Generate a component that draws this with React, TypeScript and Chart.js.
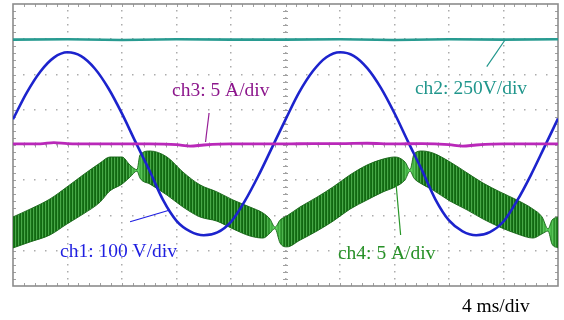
import { useEffect, useRef } from "react";
import { Chart, registerables } from "chart.js";

Chart.register(...registerables);

// ---- scope settings: 4 ms/div horizontally (10 div), 8 vertical divisions ----
const timeTicks = [0, 4, 8, 12, 16, 20, 24, 28, 32, 36, 40];
const divTicks = [-4, -3, -2, -1, 0, 1, 2, 3, 4];

// ch1: 100 V/div  (values in divisions, time in ms)
const ch1Time = [0, 1, 2, 3, 4, 5, 6, 7, 8, 9, 10, 11, 12, 13, 14, 15, 16, 17, 18, 19, 20,
  21, 22, 23, 24, 25, 26, 27, 28, 29, 30, 31, 32, 33, 34, 35, 36, 37, 38, 39, 40];
const ch1Volts = [0.73, 1.48, 2.08, 2.48, 2.63, 2.52, 2.17, 1.61, 0.89, 0.08, -0.71, -1.55, -2.15, -2.45, -2.56, -2.48, -2.18, -1.6, -0.88, -0.08,
  0.72, 1.49, 2.09, 2.49, 2.63, 2.53, 2.18, 1.62, 0.9, 0.09, -0.7, -1.54, -2.14, -2.45, -2.56, -2.47, -2.17, -1.58, -0.86, -0.06, 0.75];

// ch2: 250 V/div (DC link)
const ch2Time = [0, 4, 8, 12, 16, 20, 24, 28, 32, 36, 40];
const ch2Level = [2.99, 3.0, 2.98, 3.0, 2.99, 2.99, 3.0, 2.98, 3.0, 2.99, 3.0];

// ch3: 5 A/div
const ch3Time = [0, 2, 3, 4, 6, 8, 10, 12, 13, 14, 16, 18, 20, 22, 24, 26, 28, 30, 32, 33, 34, 36, 38, 40];
const ch3Current = [0.03, 0.03, 0.07, 0.04, 0.03, 0.03, 0.03, 0.01, -0.03, 0.0, 0.03, 0.03, 0.03, 0.04, 0.04, 0.05, 0.03, 0.04, 0.01, -0.03, 0.0, 0.03, 0.03, 0.03];

// ch4: 5 A/div (ripple band: upper and lower envelope)
const ch4Time = [0, 1.25, 2.72, 3.96, 5.14, 6.39, 7.12, 8.0, 8.59, 9.1,
  9.32, 10.06, 11.3, 12.48, 13.72, 14.97, 16.15, 17.39, 18.35, 18.86, 19.23,
  19.6, 20.11, 21.06, 22.31, 23.49, 24.73, 25.98, 27.16, 28.04, 28.77, 29.14,
  29.43, 30.02, 30.83, 32.07, 33.32, 34.5, 35.74, 36.99, 38.17, 38.83, 39.27,
  39.56, 40.0];
const ch4Upper = [-2.04, -1.82, -1.53, -1.19, -0.85, -0.51, -0.34, -0.34, -0.57, -0.7,
  -0.28, -0.17, -0.34, -0.77, -1.13, -1.33, -1.56, -1.76, -1.93, -2.1, -2.33,
  -2.13, -2.01, -1.76, -1.48, -1.19, -0.85, -0.57, -0.4, -0.34, -0.48, -0.7,
  -0.26, -0.17, -0.23, -0.48, -0.79, -1.08, -1.33, -1.56, -1.82, -2.04, -2.38,
  -2.13, -2.04];
const ch4Lower = [-2.92, -2.75, -2.55, -2.24, -1.96, -1.62, -1.3, -1.11, -0.91, -0.74,
  -0.94, -1.11, -1.42, -1.76, -2.04, -2.16, -2.38, -2.58, -2.64, -2.5, -2.37,
  -2.78, -2.89, -2.7, -2.44, -2.16, -1.82, -1.56, -1.33, -1.19, -0.99, -0.74,
  -0.94, -1.11, -1.28, -1.59, -1.84, -2.1, -2.33, -2.52, -2.64, -2.52, -2.44,
  -2.81, -2.92];
const ch4NeckTimes = [9.1, 19.23, 29.14, 39.27];

// ---- annotations (positions in scope units: ms, div) ----
const SERIF = '"Liberation Serif", "Times New Roman", serif';
const labels = [
  { text: "ch3: 5 A/div", t: 11.67, v: 1.404, color: "rgb(140,22,140)" },
  { text: "ch2: 250V/div", t: 29.5, v: 1.447, color: "rgb(32,150,140)" },
  { text: "ch1: 100 V/div", t: 3.45, v: -3.177, color: "rgb(30,30,225)" },
  { text: "ch4: 5 A/div", t: 23.85, v: -3.22, color: "rgb(40,145,40)" },
  { text: "4 ms/div", t: 32.95, v: -4.738, color: "rgb(0,0,0)" },
];
const leaders = [
  { t0: 34.77, v0: 2.221, t1: 36.11, v1: 2.979, color: "rgb(32,150,140)" },
  { t0: 14.13, v0: 0.085, t1: 14.39, v1: 0.908, color: "rgb(150,30,150)" },
  { t0: 8.59, v0: -2.176, t1: 11.52, v1: -1.844, color: "rgb(30,30,225)" },
  { t0: 28.45, v0: -2.553, t1: 28.11, v1: -1.087, color: "rgb(40,150,40)" },
];

const toXY = (xs: number[], ys: number[]) => xs.map((x, i) => ({ x, y: ys[i] }));

let patternCache: { w: number; key: string; pat: CanvasPattern | string } | null = null;
function bandFill(chart: any): CanvasPattern | string {
  const xs = chart.scales && chart.scales.x;
  if (!xs) return "rgb(30,120,30)";
  const w = chart.width;
  const necks = ch4NeckTimes.map((t) => xs.getPixelForValue(t));
  const key = necks.map((n) => n.toFixed(1)).join(",");
  if (patternCache && patternCache.w === w && patternCache.key === key) return patternCache.pat;
  const c = document.createElement("canvas");
  c.width = w;
  c.height = 1;
  const g = c.getContext("2d")!;
  const hi = [105, 228, 105];
  for (let x = 0; x < w; x++) {
    const m = x % 3;
    const base = m === 0 ? [72, 168, 72] : m === 1 ? [24, 116, 24] : [18, 104, 18];
    let b = 0;
    for (const n of necks) b = Math.max(b, 1 - Math.abs(x + 0.5 - n) / 10);
    const col = base.map((v, i) => Math.round(v + (hi[i] - v) * b * 0.85));
    g.fillStyle = `rgb(${col[0]},${col[1]},${col[2]})`;
    g.fillRect(x, 0, 1, 1);
  }
  const pat = chart.ctx.createPattern(c, "repeat") || "rgb(30,120,30)";
  patternCache = { w, key, pat };
  return pat;
}

const scopeGrid = {
  id: "scopeGrid",
  beforeDatasetsDraw(chart: any) {
    const { ctx, chartArea: a, scales } = chart;
    const x = scales.x;
    const y = scales.y;
    ctx.save();
    const xDiv = (x.getPixelForValue(timeTicks[1]) - x.getPixelForValue(timeTicks[0]));
    const yDiv = (y.getPixelForValue(divTicks[0]) - y.getPixelForValue(divTicks[1]));
    const xCenter = x.getPixelForValue(timeTicks[5]);
    const yCenter = y.getPixelForValue(divTicks[4]);
    ctx.fillStyle = "rgb(172,172,172)";
    // vertical dotted lines
    for (let i = 1; i < timeTicks.length - 1; i++) {
      const px = x.getPixelForValue(timeTicks[i]);
      for (let k = 1; k < (divTicks.length - 1) * 5; k++) {
        const py = a.top + (k * yDiv) / 5;
        ctx.fillRect(Math.round(px) - 1, Math.round(py) - 1, 1.5, 1.5);
      }
    }
    // horizontal dotted lines
    for (let j = 1; j < divTicks.length - 1; j++) {
      const py = y.getPixelForValue(divTicks[j]);
      for (let k = 1; k < (timeTicks.length - 1) * 5; k++) {
        const px = a.left + (k * xDiv) / 5;
        ctx.fillRect(Math.round(px) - 1, Math.round(py) - 1, 1.5, 1.5);
      }
    }
    // center line minor ticks
    ctx.strokeStyle = "rgb(160,160,160)";
    ctx.lineWidth = 1;
    ctx.beginPath();
    for (let k = 1; k < (divTicks.length - 1) * 5; k++) {
      const py = Math.round(a.top + (k * yDiv) / 5) + 0.5;
      ctx.moveTo(xCenter - 2.5, py);
      ctx.lineTo(xCenter + 2.5, py);
    }
    for (let k = 1; k < (timeTicks.length - 1) * 5; k++) {
      const px = Math.round(a.left + (k * xDiv) / 5) + 0.5;
      ctx.moveTo(px, yCenter - 2.5);
      ctx.lineTo(px, yCenter + 2.5);
    }
    // border ticks
    for (let k = 1; k < (timeTicks.length - 1) * 5; k++) {
      const px = Math.round(a.left + (k * xDiv) / 5) + 0.5;
      ctx.moveTo(px, a.top);
      ctx.lineTo(px, a.top + 3);
      ctx.moveTo(px, a.bottom);
      ctx.lineTo(px, a.bottom - 3);
    }
    for (let k = 1; k < (divTicks.length - 1) * 5; k++) {
      const py = Math.round(a.top + (k * yDiv) / 5) + 0.5;
      ctx.moveTo(a.left, py);
      ctx.lineTo(a.left + 3, py);
      ctx.moveTo(a.right, py);
      ctx.lineTo(a.right - 3, py);
    }
    ctx.stroke();
    // border
    ctx.strokeStyle = "rgb(140,140,140)";
    ctx.lineWidth = 1.6;
    ctx.strokeRect(a.left, a.top, a.right - a.left, a.bottom - a.top);
    ctx.restore();
  },
  afterDatasetsDraw(chart: any) {
    const { ctx, scales } = chart;
    const x = scales.x;
    const y = scales.y;
    ctx.save();
    ctx.lineWidth = 1.2;
    for (const l of leaders) {
      ctx.strokeStyle = l.color;
      ctx.beginPath();
      ctx.moveTo(x.getPixelForValue(l.t0), y.getPixelForValue(l.v0));
      ctx.lineTo(x.getPixelForValue(l.t1), y.getPixelForValue(l.v1));
      ctx.stroke();
    }
    ctx.font = `19.5px ${SERIF}`;
    ctx.textBaseline = "alphabetic";
    ctx.textAlign = "left";
    for (const t of labels) {
      ctx.fillStyle = t.color;
      ctx.fillText(t.text, x.getPixelForValue(t.t), y.getPixelForValue(t.v));
    }
    ctx.restore();
  },
};

export default function App() {
  const ref = useRef<HTMLCanvasElement | null>(null);
  useEffect(() => {
    if (!ref.current) return;
    const chart = new Chart(ref.current, {
      type: "line",
      data: {
        datasets: [
          {
            label: "ch4 upper",
            data: toXY(ch4Time, ch4Upper),
            borderColor: "rgba(20,100,20,0.9)",
            borderWidth: 1,
            backgroundColor: (c: any) => bandFill(c.chart),
            fill: "+1",
            pointRadius: 0,
            cubicInterpolationMode: "monotone",
            order: 4,
          },
          {
            label: "ch4 lower",
            data: toXY(ch4Time, ch4Lower),
            borderColor: "rgba(20,100,20,0.9)",
            borderWidth: 1,
            fill: false,
            pointRadius: 0,
            cubicInterpolationMode: "monotone",
            order: 3,
          },
          {
            label: "ch1",
            data: toXY(ch1Time, ch1Volts),
            borderColor: "rgb(28,35,205)",
            borderWidth: 2.6,
            fill: false,
            pointRadius: 0,
            cubicInterpolationMode: "monotone",
            order: 2,
          },
          {
            label: "ch2",
            data: toXY(ch2Time, ch2Level),
            borderColor: "rgb(40,155,145)",
            borderWidth: 2.6,
            fill: false,
            pointRadius: 0,
            order: 1,
          },
          {
            label: "ch3",
            data: toXY(ch3Time, ch3Current),
            borderColor: "rgb(185,40,185)",
            borderWidth: 2.8,
            fill: false,
            pointRadius: 0,
            cubicInterpolationMode: "monotone",
            order: 0,
          },
        ],
      },
      options: {
        animation: false,
        responsive: false,
        devicePixelRatio: 1,
        layout: { padding: { left: 13, top: 4, right: 6, bottom: 34 } },
        plugins: { legend: { display: false }, tooltip: { enabled: false }, title: { display: false } },
        scales: {
          x: { type: "linear", min: timeTicks[0], max: timeTicks[timeTicks.length - 1], display: false },
          y: { type: "linear", min: divTicks[0], max: divTicks[divTicks.length - 1], display: false },
        },
        events: [],
      },
      plugins: [scopeGrid],
    });
    return () => chart.destroy();
  }, []);
  return (
    <div style={{ position: "absolute", left: 0, top: 0, width: 564, height: 320, background: "#fff" }}>
      <canvas ref={ref} width={564} height={320} />
    </div>
  );
}
